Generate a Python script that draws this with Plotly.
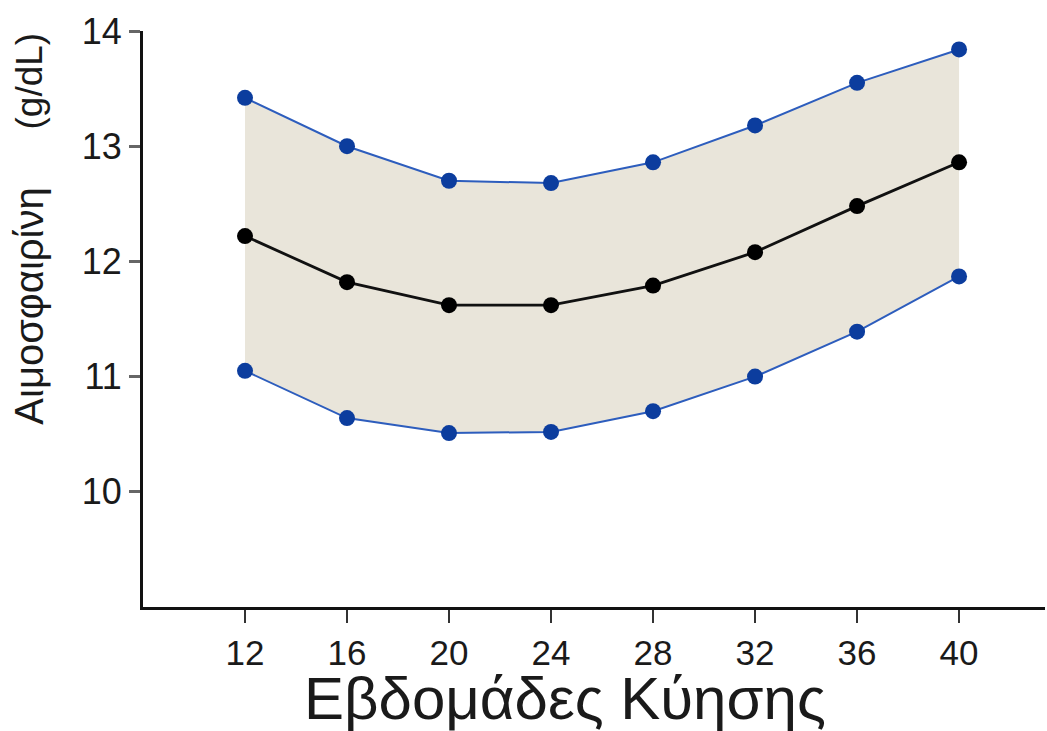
import plotly.graph_objects as go

# Gestational weeks and haemoglobin (g/dL): mean with lower / upper reference limits
weeks = [12, 16, 20, 24, 28, 32, 36, 40]
hb_mean = [12.22, 11.82, 11.62, 11.62, 11.79, 12.08, 12.48, 12.86]
hb_lower = [11.05, 10.64, 10.51, 10.52, 10.70, 11.00, 11.39, 11.87]
hb_upper = [13.42, 13.00, 12.70, 12.68, 12.86, 13.18, 13.55, 13.84]
y_ticks = [10, 11, 12, 13, 14]

FONT = "Liberation Sans, Arial, Helvetica, sans-serif"
TEXT = "#1a1a1a"
BAND = "#e9e5da"
BLUE_LINE = "#2d5dbd"
BLUE_DOT = "#0c3d9e"

fig = go.Figure()

# Lower limit (base of the shaded band)
fig.add_trace(go.Scatter(
    x=weeks, y=hb_lower, mode="lines+markers",
    line=dict(color=BLUE_LINE, width=2),
    marker=dict(color=BLUE_DOT, size=16),
    showlegend=False, hoverinfo="x+y",
))
# Upper limit, filled down to the lower limit
fig.add_trace(go.Scatter(
    x=weeks, y=hb_upper, mode="lines+markers",
    line=dict(color=BLUE_LINE, width=2),
    marker=dict(color=BLUE_DOT, size=16),
    fill="tonexty", fillcolor=BAND,
    showlegend=False, hoverinfo="x+y",
))
# Mean curve
fig.add_trace(go.Scatter(
    x=weeks, y=hb_mean, mode="lines+markers",
    line=dict(color="#111111", width=2.8),
    marker=dict(color="#000000", size=16),
    showlegend=False, hoverinfo="x+y",
))

fig.update_layout(
    width=1047, height=731,
    margin=dict(l=143, r=2, t=31, b=124),
    paper_bgcolor="white", plot_bgcolor="white",
    font=dict(family=FONT, color=TEXT, size=36),
    xaxis=dict(
        range=[8, 43.37], tickvals=weeks, ticktext=[str(w) for w in weeks],
        showgrid=False, zeroline=False,
        showline=True, linecolor="#111111", linewidth=3,
        ticks="outside", ticklen=13, tickwidth=1.5, tickcolor="#333333",
        tickfont=dict(size=35, family=FONT, color=TEXT),
    ),
    yaxis=dict(
        range=[9, 14], tickvals=y_ticks, ticktext=[str(v) for v in y_ticks],
        showgrid=False, zeroline=False,
        showline=True, linecolor="#111111", linewidth=3,
        ticks="outside", ticklen=11, tickwidth=3, tickcolor="#666666",
        tickfont=dict(size=36, family=FONT, color=TEXT),
    ),
    annotations=[
        dict(text="Εβδομάδες Κύησης", xref="paper", yref="paper",
             x=0.468, y=-0.158, xanchor="center", yanchor="middle",
             showarrow=False, font=dict(size=60, family=FONT, color=TEXT)),
        dict(text="Αιμοσφαιρίνη", xref="paper", yref="paper",
             x=-0.126, y=0.522, xanchor="center", yanchor="middle",
             textangle=-90, showarrow=False,
             font=dict(size=40, family=FONT, color=TEXT)),
        dict(text="(g/dL)", xref="paper", yref="paper",
             x=-0.126, y=0.913, xanchor="center", yanchor="middle",
             textangle=-90, showarrow=False,
             font=dict(size=37, family=FONT, color=TEXT)),
    ],
)

fig.write_html("out.html")
